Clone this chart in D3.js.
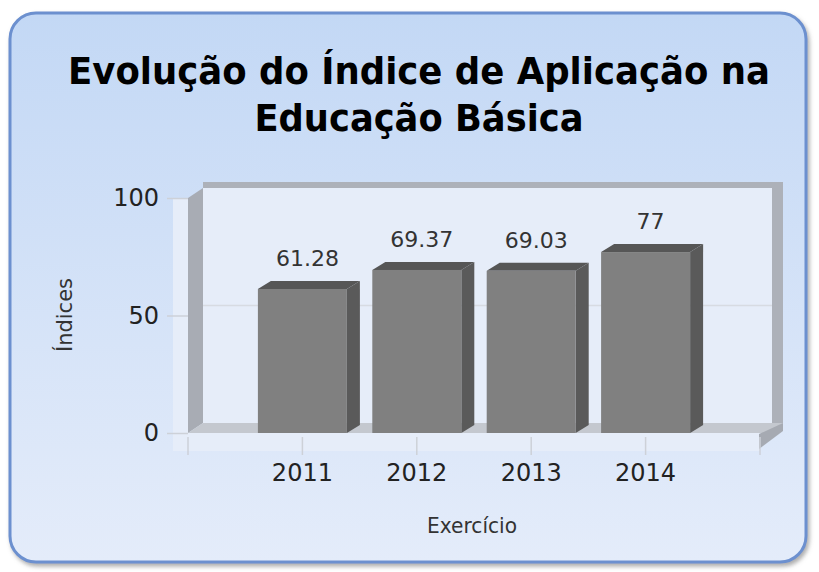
<!DOCTYPE html>
<html>
<head>
<meta charset="utf-8">
<script src="https://cdn.jsdelivr.net/npm/d3@7"></script>
<style>
body { margin: 0; background: #ffffff; }
text { font-family: "DejaVu Sans", sans-serif; }
.axis path { display: none; }
.axis line { stroke: #cdd1d8; stroke-width: 1.5; }
.axis text { fill: #222; font-size: 24px; }
</style>
</head>
<body>
<script>
const years = ["2011", "2012", "2013", "2014"];
const values = [61.28, 69.37, 69.03, 77];
const yTicks = [0, 50, 100];
const titleLines = ["Evolução do Índice de Aplicação na", "Educação Básica"];

const W = 819, H = 572;
const svg = d3.select("body").append("svg")
  .attr("width", W).attr("height", H);

// card background
const defs = svg.append("defs");
const grad = defs.append("linearGradient").attr("id", "bg")
  .attr("x1", 0).attr("y1", 0).attr("x2", 0).attr("y2", 1);
grad.append("stop").attr("offset", "0%").attr("stop-color", "#c3d8f5");
grad.append("stop").attr("offset", "100%").attr("stop-color", "#e4ecfa");

const shadow = defs.append("filter").attr("id", "shadow")
  .attr("x", "-5%").attr("y", "-5%").attr("width", "110%").attr("height", "110%");
shadow.append("feDropShadow").attr("dx", 2).attr("dy", 3)
  .attr("stdDeviation", 2).attr("flood-color", "#777").attr("flood-opacity", 0.6);

svg.append("rect")
  .attr("x", 10).attr("y", 13).attr("width", 796).attr("height", 549)
  .attr("rx", 26).attr("ry", 26)
  .attr("fill", "url(#bg)")
  .attr("stroke", "#6c90cf").attr("stroke-width", 3)
  .attr("filter", "url(#shadow)");

// title, squeezed to the width of the original lines
const titleW = [702, 329];
svg.append("g").selectAll("text").data(titleLines).enter().append("text")
  .attr("x", 419).attr("y", (d, i) => 84 + i * 47)
  .attr("text-anchor", "middle")
  .attr("font-weight", "bold").attr("font-size", 38).attr("fill", "#000")
  .attr("textLength", (d, i) => titleW[i])
  .attr("lengthAdjust", "spacingAndGlyphs")
  .text(d => d);

// scales
const x = d3.scalePoint().domain(years).range([188, 760]).padding(1);
const y = d3.scaleLinear().domain([0, 100]).range([433, 198]);
const barW = 89;
const wdx = 15, wdy = 10;   // wall depth
const bdx = 13, bdy = 8;    // bar depth
const x0 = 188, x1 = 760;

// light front strips
svg.append("rect")
  .attr("x", x0 - 15).attr("y", y(100)).attr("width", 15).attr("height", y(0) - y(100) + 18)
  .attr("fill", "#e6edf9");
svg.append("rect")
  .attr("x", x0 - 15).attr("y", y(0)).attr("width", x1 - x0 + 15).attr("height", 18)
  .attr("fill", "#e6edf9");

// back wall with its frame
svg.append("rect")
  .attr("x", x0 + wdx).attr("y", y(100) - wdy - 6)
  .attr("width", x1 - x0 + 8).attr("height", y(0) - y(100) + 6)
  .attr("fill", "#adb1b9");
svg.append("rect")
  .attr("x", x0 + wdx).attr("y", y(100) - wdy)
  .attr("width", x1 - x0 - 3).attr("height", y(0) - y(100))
  .attr("fill", "#e6edf9");

// grid on back wall
svg.append("g").selectAll("line").data(yTicks.filter(d => d > 0 && d < 100)).enter()
  .append("line")
  .attr("x1", x0 + wdx).attr("x2", x1 + 12)
  .attr("y1", d => y(d) - wdy).attr("y2", d => y(d) - wdy)
  .attr("stroke", "#d7dbe2").attr("stroke-width", 1.5);

// left wall
svg.append("polygon")
  .attr("points", [[x0, y(100)], [x0 + wdx, y(100) - wdy], [x0 + wdx, y(0) - wdy], [x0, y(0)]].join(" "))
  .attr("fill", "#a8acb4");

// floor
svg.append("polygon")
  .attr("points", [[x0, y(0)], [x0 + wdx, y(0) - wdy], [x1 + 23, y(0) - wdy], [x1 + 8, y(0)]].join(" "))
  .attr("fill", "#c4c8cf");
svg.append("polygon")
  .attr("points", [[x1 - 1, y(0) + 1], [x1 + 23, y(0) - wdy], [x1 + 23, y(0) - 2], [x1 - 1, y(0) + 16]].join(" "))
  .attr("fill", "#a6aab2");

// y axis
const yAxis = d3.axisLeft(y).tickValues(yTicks).tickSize(21).tickPadding(8);
svg.append("g").attr("class", "axis")
  .attr("transform", `translate(${x0},0)`)
  .call(yAxis);

// x ticks
svg.append("g").selectAll("line").data([x0].concat(years.map(d => x(d)), [x1])).enter()
  .append("line")
  .attr("x1", d => d).attr("x2", d => d)
  .attr("y1", y(0) + 4).attr("y2", y(0) + 22)
  .attr("stroke", "#cdd1d8").attr("stroke-width", 1.5);
svg.append("g").selectAll("text").data(years).enter()
  .append("text")
  .attr("x", d => x(d)).attr("y", 481)
  .attr("text-anchor", "middle").attr("font-size", 24).attr("fill", "#222")
  .text(d => d);

// bars
const bars = svg.append("g").selectAll("g").data(years).enter().append("g");
bars.append("polygon")
  .attr("points", (d, i) => {
    const l = x(d) + barW / 2, t = y(values[i]);
    return [[l, t], [l + bdx, t - bdy], [l + bdx, y(0) - bdy], [l, y(0)]].join(" ");
  })
  .attr("fill", "#5a5a5a");
bars.append("polygon")
  .attr("points", (d, i) => {
    const l = x(d) - barW / 2, t = y(values[i]);
    return [[l, t], [l + bdx, t - bdy], [l + barW + bdx, t - bdy], [l + barW, t]].join(" ");
  })
  .attr("fill", "#565656");
bars.append("rect")
  .attr("x", d => x(d) - barW / 2)
  .attr("y", (d, i) => y(values[i]))
  .attr("width", barW)
  .attr("height", (d, i) => y(0) - y(values[i]))
  .attr("fill", "#808080");
bars.append("text")
  .attr("x", d => x(d) + 5)
  .attr("y", (d, i) => y(values[i]) - 23)
  .attr("text-anchor", "middle").attr("font-size", 22).attr("fill", "#333")
  .text((d, i) => values[i]);

// axis titles
svg.append("text")
  .attr("transform", "translate(72,315) rotate(-90)")
  .attr("text-anchor", "middle").attr("font-size", 22).attr("fill", "#333")
  .attr("textLength", 74).attr("lengthAdjust", "spacingAndGlyphs")
  .text("Índices");
svg.append("text")
  .attr("x", 472).attr("y", 533)
  .attr("text-anchor", "middle").attr("font-size", 22).attr("fill", "#333")
  .attr("textLength", 90).attr("lengthAdjust", "spacingAndGlyphs")
  .text("Exercício");
</script>
</body>
</html>
